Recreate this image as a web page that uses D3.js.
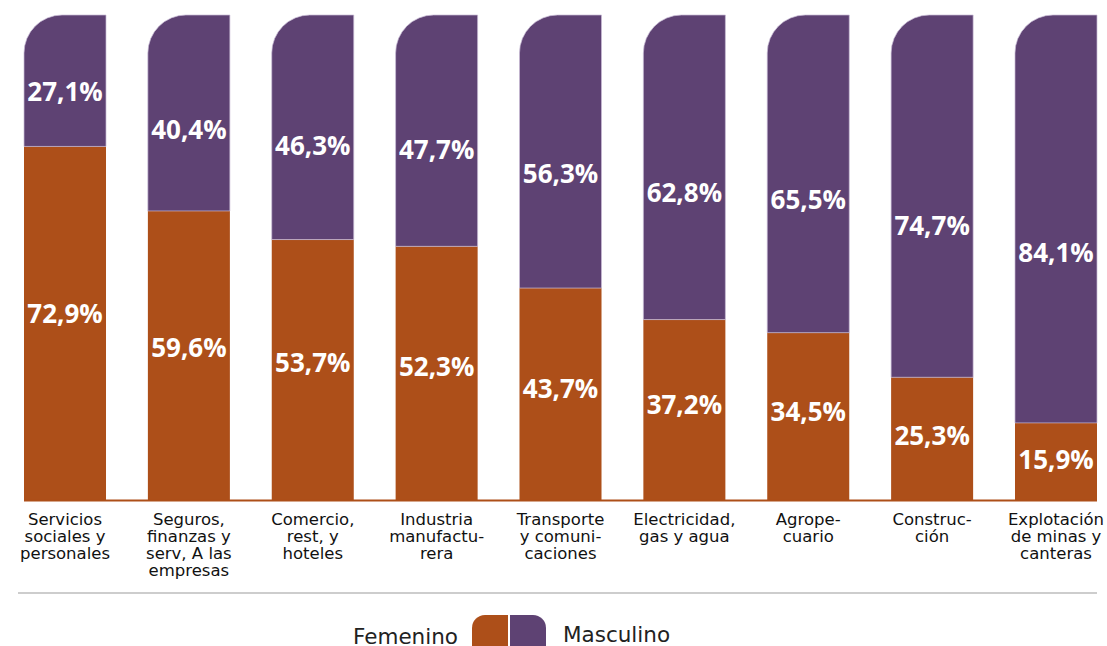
<!DOCTYPE html>
<html>
<head>
<meta charset="utf-8">
<script src="https://cdn.jsdelivr.net/npm/d3@7"></script>
<style>
  body { margin: 0; background: #fff; }
  svg { display: block; }
</style>
</head>
<body>
<div id="chart"></div>
<script>
// datos ------------------------------------------------------------
const categorias = [
  ['Servicios', 'sociales y', 'personales'],
  ['Seguros,', 'finanzas y', 'serv, A las', 'empresas'],
  ['Comercio,', 'rest, y', 'hoteles'],
  ['Industria', 'manufactu-', 'rera'],
  ['Transporte', 'y comuni-', 'caciones'],
  ['Electricidad,', 'gas y agua'],
  ['Agrope-', 'cuario'],
  ['Construc-', 'ción'],
  ['Explotación', 'de minas y', 'canteras']
];
const femenino = [72.9, 59.6, 53.7, 52.3, 43.7, 37.2, 34.5, 25.3, 15.9];
const masculino = [27.1, 40.4, 46.3, 47.7, 56.3, 62.8, 65.5, 74.7, 84.1];
const series = ['Femenino', 'Masculino'];

const width = 1107, height = 646;
const colFem = '#ad4f19', colMas = '#5e4273';
const fontLbl = '"Open Sans", "DejaVu Sans", sans-serif';
const fontTxt = '"DejaVu Sans", sans-serif';
const fmt = v => d3.format('.1f')(v).replace('.', ',') + '%';

const svg = d3.select('#chart').append('svg')
  .attr('width', width)
  .attr('height', height);

// escalas ----------------------------------------------------------
const x = d3.scaleBand()
  .domain(d3.range(categorias.length))
  .range([24, 1097])
  .paddingInner(0.338)
  .paddingOuter(0);
const y = d3.scaleLinear().domain([0, 100]).range([500, 15]);

// barra con esquina superior izquierda redondeada
const topLeftRounded = (x0, y0, w, h, r) => {
  const p = d3.path();
  p.moveTo(x0, y0 + h);
  p.lineTo(x0, y0 + r);
  p.arcTo(x0, y0, x0 + r, y0, r);
  p.lineTo(x0 + w, y0);
  p.lineTo(x0 + w, y0 + h);
  p.closePath();
  return p.toString();
};

const rows = femenino.map((f, i) => ({ i, f, m: masculino[i] }));

const g = svg.append('g');
// femenino
g.selectAll('rect.fem')
  .data(rows)
  .enter()
  .append('rect')
  .attr('class', 'fem')
  .attr('x', d => x(d.i))
  .attr('y', d => y(d.f))
  .attr('width', x.bandwidth())
  .attr('height', d => y(0) - y(d.f))
  .attr('fill', colFem);
// masculino
g.selectAll('path.mas')
  .data(rows)
  .enter()
  .append('path')
  .attr('class', 'mas')
  .attr('d', d => topLeftRounded(x(d.i), y(100), x.bandwidth(), y(d.f) - y(100), 38))
  .attr('fill', colMas)
  .attr('stroke', '#c9bcd6')
  .attr('stroke-width', 0.7);

// línea base -------------------------------------------------------
svg.append('line')
  .attr('x1', 24).attr('x2', 1097)
  .attr('y1', y(0) + 0.5).attr('y2', y(0) + 0.5)
  .attr('stroke', colFem)
  .attr('stroke-width', 2);

// etiquetas de valor -------------------------------------------------
const lbl = svg.append('g')
  .attr('font-family', fontLbl)
  .attr('font-weight', 700)
  .attr('font-size', '26px')
  .attr('fill', '#fff')
  .attr('text-anchor', 'middle')
  .attr('dominant-baseline', 'central');
lbl.selectAll('text.f')
  .data(rows)
  .enter()
  .append('text')
  .attr('x', d => x(d.i) + x.bandwidth() / 2)
  .attr('y', d => y(d.f) + (y(0) - y(d.f)) * 0.47)
  .text(d => fmt(d.f));
lbl.selectAll('text.m')
  .data(rows)
  .enter()
  .append('text')
  .attr('x', d => x(d.i) + x.bandwidth() / 2)
  .attr('y', d => y(100) + (y(d.f) - y(100)) * 0.58)
  .text(d => fmt(d.m));

// categorías ---------------------------------------------------------
const cat = svg.append('g')
  .attr('font-family', fontTxt)
  .attr('font-size', '16.5px')
  .attr('fill', '#111')
  .attr('text-anchor', 'middle');
cat.selectAll('text')
  .data(categorias)
  .enter()
  .append('text')
  .attr('transform', (d, i) => 'translate(' + (x(i) + x.bandwidth() / 2) + ',525)')
  .selectAll('tspan')
  .data(d => d)
  .enter()
  .append('tspan')
  .attr('x', 0)
  .attr('y', (d, j) => j * 17)
  .text(d => d);

// separador ----------------------------------------------------------
svg.append('line')
  .attr('x1', 18).attr('x2', 1097)
  .attr('y1', 593).attr('y2', 593)
  .attr('stroke', '#bdbdbd')
  .attr('stroke-width', 1.5);

// leyenda ------------------------------------------------------------
const leg = svg.append('g');
const sw = 36;
leg.append('path')
  .attr('d', topLeftRounded(472, 615, sw, sw, 13))
  .attr('fill', colFem);
leg.append('path')
  .attr('d', topLeftRounded(-(510 + sw), 615, sw, sw, 13))
  .attr('transform', 'scale(-1,1)')
  .attr('fill', colMas);
leg.append('text')
  .attr('x', 458).attr('y', 644)
  .attr('text-anchor', 'end')
  .attr('font-family', fontTxt)
  .attr('font-size', '21.5px')
  .attr('fill', '#222')
  .text(series[0]);
leg.append('text')
  .attr('x', 563).attr('y', 642)
  .attr('text-anchor', 'start')
  .attr('font-family', fontTxt)
  .attr('font-size', '21.5px')
  .attr('fill', '#222')
  .text(series[1]);
</script>
</body>
</html>
